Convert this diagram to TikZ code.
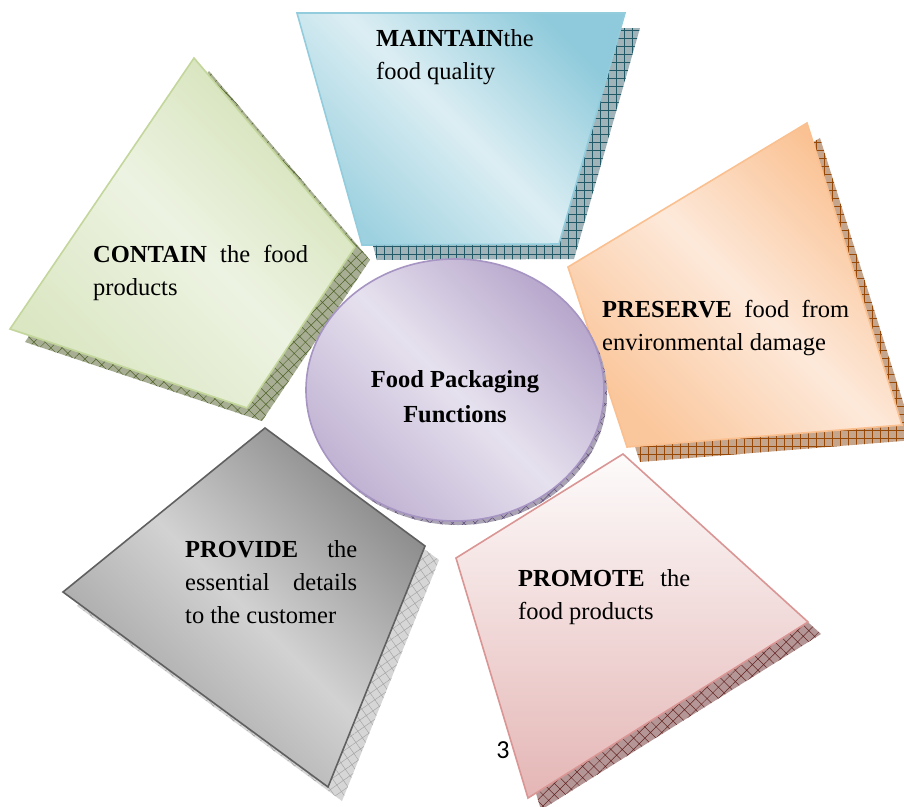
\documentclass[tikz,border=0pt]{standalone}
\usepackage{fontspec}
\setmainfont{Liberation Serif}
\newfontfamily\pagefont{Carlito}
\usetikzlibrary{patterns.meta,shapes.geometric}

\definecolor{blueline}{HTML}{93CDDD}
\definecolor{bluedark}{HTML}{8ECADB}
\definecolor{bluelight}{HTML}{DCEEF3}
\definecolor{bluebase}{HTML}{9FB3B8}
\definecolor{blueshade}{HTML}{215967}
\definecolor{greenline}{HTML}{C3D69B}
\definecolor{greendark}{HTML}{D3E1B6}
\definecolor{greenlight}{HTML}{EDF3E2}
\definecolor{greenbase}{HTML}{A7AE93}
\definecolor{greenshade}{HTML}{4F6228}
\definecolor{orangeline}{HTML}{FAC090}
\definecolor{orangedark}{HTML}{FAC090}
\definecolor{orangelight}{HTML}{FDE9DA}
\definecolor{orangebase}{HTML}{C6A58D}
\definecolor{orangeshade}{HTML}{974806}
\definecolor{grayline}{HTML}{606060}
\definecolor{graydark}{HTML}{8A8A8A}
\definecolor{graylight}{HTML}{D2D2D2}
\definecolor{graybase}{HTML}{D6D6D6}
\definecolor{grayshade}{HTML}{A6A6A6}
\definecolor{pinkline}{HTML}{D99694}
\definecolor{pinktop}{HTML}{FDFBFB}
\definecolor{pinkbottom}{HTML}{E4B6B5}
\definecolor{pinkbase}{HTML}{B59696}
\definecolor{pinkshade}{HTML}{632523}
\definecolor{purpleline}{HTML}{A694C2}
\definecolor{purpledark}{HTML}{B7A7CC}
\definecolor{purplelight}{HTML}{E6E1EE}
\definecolor{purplebase}{HTML}{A9A3B3}
\definecolor{purpleshade}{HTML}{5F497A}

\tikzset{
  petal/.style={line width=1.6pt,line join=miter},
  shadowgrid/.style n args={3}{fill=#1,postaction={pattern={Hatch[distance=8pt,angle=#3,line width=0.5pt]},pattern color=#2}},
  petaltext/.style={anchor=base west,inner sep=0pt,align=justify,font=\fontsize{24.5}{33}\selectfont},
  hub/.style={ellipse,draw=purpleline,line width=1.6pt,minimum width=298pt,minimum height=262pt,inner sep=0pt,
    top color=purpledark,bottom color=purpledark!80!purplelight,middle color=purplelight,shading angle=-45},
}

\begin{document}
\begin{tikzpicture}[x=1pt,y=-1pt]
\useasboundingbox[fill=white] (0,0) rectangle (904,806);
\def\maintainpath{(297,13)--(625,13)--(559,244)--(362,245)--cycle}
\def\containpath{(194,58)--(355,247)--(247,408)--(10,329)--cycle}
\def\preservepath{(807,123)--(902,425)--(627,447)--(568,267)--cycle}
\def\providepath{(265,428)--(425,546)--(328,787)--(63,592)--cycle}
\def\promotepath{(623,454)--(808,622)--(528,798)--(456,558)--cycle}
% shadows
\path[shadowgrid={greenbase}{greenshade}{45},shift={(15,13)}] \containpath;
\path[shadowgrid={bluebase}{blueshade}{0},shift={(15,15)}] \maintainpath;
\path[shadowgrid={orangebase}{orangeshade}{0},shift={(13,15)}] \preservepath;
\path[shadowgrid={pinkbase}{pinkshade}{45},shift={(13,12)}] \promotepath;
\path[shadowgrid={graybase}{grayshade}{35},shift={(14,14)}] \providepath;
% petals
\draw[petal,draw=greenline,top color=greendark,bottom color=greendark!70!greenlight,middle color=greenlight,shading angle=-45] \containpath;
\draw[petal,draw=blueline,top color=bluedark,bottom color=bluedark!80!bluelight,middle color=bluelight,shading angle=-45] \maintainpath;
\draw[petal,draw=orangeline,top color=orangedark,bottom color=orangedark!85!orangelight,middle color=orangelight,shading angle=-45] \preservepath;
\draw[petal,draw=pinkline,top color=pinktop,bottom color=pinkbottom] \promotepath;
\draw[petal,draw=grayline,top color=graydark,bottom color=graydark!75!graylight,middle color=graylight,shading angle=-45] \providepath;
% centre
\path[shadowgrid={purplebase}{purpleshade}{45}] (458,394) ellipse [x radius=149,y radius=131];
\node[hub] (hub) at (455,390) {};
\node[align=center,inner sep=0pt,font=\fontsize{24.5}{35}\selectfont\bfseries] (hubname) at ([yshift=-7pt]hub.center) {Food Packaging\\Functions};
% texts
\node[petaltext,text width=200pt] (maintain) at (376,46) {\textbf{MAINTAIN}the\\food quality};
\node[petaltext,text width=215pt] (contain) at (93,262) {\textbf{CONTAIN} the food\linebreak products};
\node[petaltext,text width=247pt] (preserve) at (602,317) {\textbf{PRESERVE} food from\linebreak environmental damage};
\node[petaltext,text width=172pt] (provide) at (185,557) {\textbf{PROVIDE} the\linebreak essential details\linebreak to the customer};
\node[petaltext,text width=172pt] (promote) at (518,586) {\textbf{PROMOTE} the\linebreak food products};
\node[anchor=base,inner sep=0pt,font=\pagefont\fontsize{26}{30}\selectfont] (pageno) at (503,758) {3};
\end{tikzpicture}
\end{document}
